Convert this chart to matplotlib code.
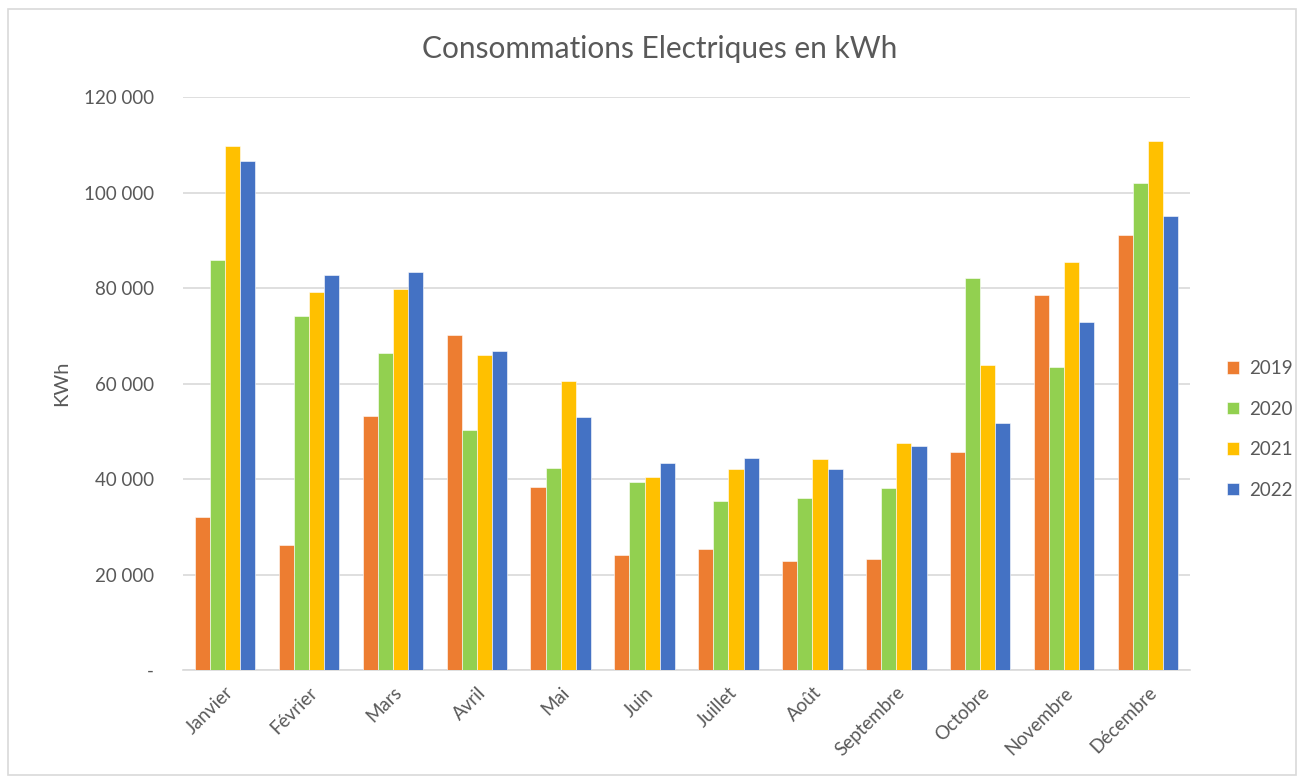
import matplotlib.pyplot as plt
import numpy as np
from matplotlib.patches import Rectangle
from matplotlib.ticker import FuncFormatter

plt.rcParams["font.family"] = ["Lato", "DejaVu Sans"]

months = ["Janvier", "Février", "Mars", "Avril", "Mai", "Juin", "Juillet",
          "Août", "Septembre", "Octobre", "Novembre", "Décembre"]
years = ["2019", "2020", "2021", "2022"]
conso_2019 = [32100, 26200, 53200, 70100, 38400, 24100, 25300, 22900, 23300, 45700, 78500, 91100]
conso_2020 = [85900, 74100, 66300, 50300, 42400, 39300, 35300, 36000, 38200, 82100, 63400, 102100]
conso_2021 = [109800, 79200, 79900, 66000, 60500, 40500, 42000, 44100, 47500, 63900, 85400, 110700]
conso_2022 = [106700, 82700, 83300, 66800, 53000, 43400, 44300, 42200, 47000, 51800, 72800, 95000]
series = [conso_2019, conso_2020, conso_2021, conso_2022]
colors = ["#ed7d31", "#92d050", "#ffc000", "#4472c4"]

text_color = "#595959"

fig = plt.figure(figsize=(13.01, 7.8), dpi=100)
ax = fig.add_axes([0.1407, 0.141, 0.774, 0.7346])

x = np.arange(len(months))
width = 0.18
for i, (vals, year, col) in enumerate(zip(series, years, colors)):
    ax.bar(x + (i - 1.5) * width, vals, width, color=col, label=year,
           edgecolor="white", linewidth=0.4, zorder=3)

ax.set_xlim(-0.5, len(months) - 0.5)
ax.set_ylim(0, 120000)
ax.set_yticks(np.arange(0, 120001, 20000))


def fmt(v, pos):
    if v == 0:
        return "-"
    return f"{int(v):,}".replace(",", " ")


ax.yaxis.set_major_formatter(FuncFormatter(fmt))
ax.grid(axis="y", color="#d9d9d9", linewidth=1.2, zorder=0)
for side in ["top", "right", "left"]:
    ax.spines[side].set_visible(False)
ax.spines["bottom"].set_color("#d9d9d9")
ax.spines["bottom"].set_linewidth(1.2)
ax.tick_params(axis="both", length=0, colors=text_color, labelsize=13.5)
ax.tick_params(axis="y", pad=21)
ax.set_xticks(x)
ax.set_xticklabels(months, rotation=45, ha="right", rotation_mode="anchor")
ax.tick_params(axis="x", pad=10)

ax.set_ylabel("KWh", color=text_color, fontsize=14.5, labelpad=10)
fig.text(0.507, 0.937, "Consommations Electriques en kWh", ha="center",
         va="center", fontsize=21.5, color=text_color)

leg = ax.legend(loc="center left", bbox_to_anchor=(1.02, 0.42), frameon=False,
                fontsize=13.5, labelcolor=text_color, handlelength=0.65,
                handleheight=0.65, labelspacing=1.25, handletextpad=0.55)

fig.patches.append(Rectangle((0.006, 0.006), 0.99, 0.982, transform=fig.transFigure,
                             fill=False, edgecolor="#d9d9d9", linewidth=1.2))

fig.savefig("out.png", dpi=100)
